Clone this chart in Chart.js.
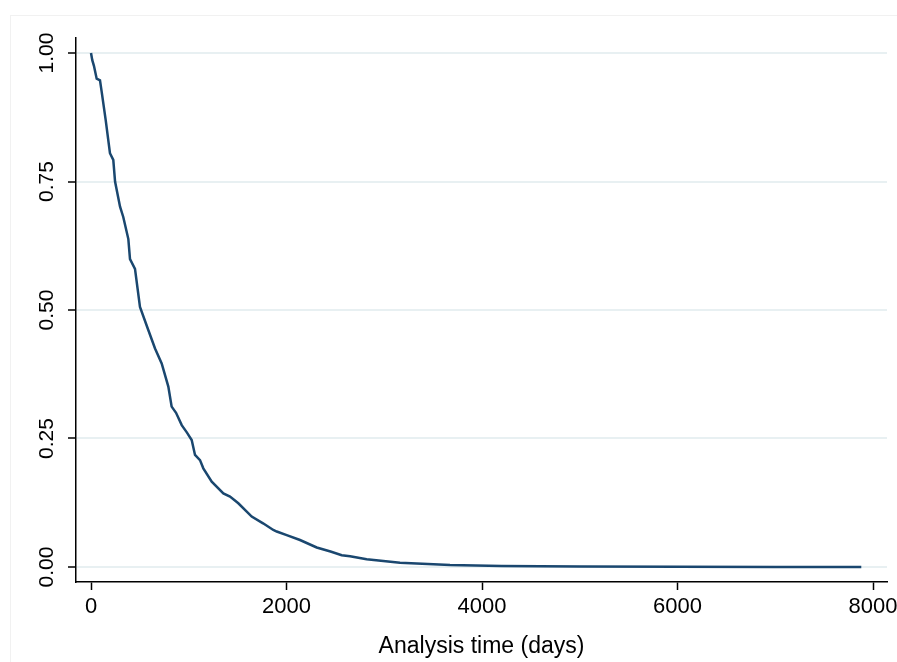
<!DOCTYPE html>
<html>
<head>
<meta charset="utf-8">
<script src="https://cdn.jsdelivr.net/npm/chart.js@4"></script>
<style>
  body { margin: 0; background: #fff; }
  canvas { display: block; }
</style>
</head>
<body>
<canvas id="kmChart" width="897" height="662"></canvas>
<script>
// Kaplan-Meier survival estimate
const days = [0, 13, 30, 58, 92, 109, 150, 194, 228, 246, 297, 330, 382, 399, 450, 501, 586,
  655, 723, 791, 825, 870, 928, 980, 1030, 1064, 1115, 1149, 1235, 1354, 1422, 1507, 1644,
  1760, 1865, 1900, 2002, 2138, 2309, 2450, 2565, 2650, 2820, 3161, 3673, 4200, 5000, 6000, 7000, 7880];
const survival = [1.000, 0.986, 0.975, 0.950, 0.947, 0.925, 0.870, 0.805, 0.792, 0.750, 0.701, 0.681, 0.638, 0.599, 0.580, 0.506, 0.461,
  0.425, 0.396, 0.351, 0.312, 0.300, 0.276, 0.262, 0.247, 0.218, 0.208, 0.192, 0.166, 0.143, 0.137, 0.124, 0.098,
  0.085, 0.072, 0.069, 0.062, 0.0525, 0.038, 0.030, 0.023, 0.021, 0.015, 0.0084, 0.0040, 0.0020, 0.0008, 0.0003, 0.0001, 0.0000];
const xTicks = [0, 2000, 4000, 6000, 8000];
const yTicks = [0, 0.25, 0.5, 0.75, 1];

// faint outer graph-region edge
const frame = {
  id: "frame",
  beforeDraw(chart) {
    const c = chart.ctx;
    c.save();
    c.strokeStyle = "#f1f1f1";
    c.lineWidth = 1;
    c.strokeRect(10.5, 15.5, 900, 660);
    c.restore();
  }
};

const ctx = document.getElementById("kmChart").getContext("2d");
new Chart(ctx, {
  type: "line",
  data: {
    datasets: [
      {
        data: days.map((d, i) => ({ x: d, y: survival[i] })),
        borderColor: "#1a476f",
        borderWidth: 2.5,
        pointRadius: 0,
        tension: 0,
        fill: false
      }
    ]
  },
  options: {
    responsive: false,
    animation: false,
    layout: { padding: { left: 0, top: 38, right: 10, bottom: 0 } },
    plugins: { legend: { display: false }, tooltip: { enabled: false } },
    scales: {
      x: {
        type: "linear",
        min: -153.5,
        max: 8143,
        afterBuildTicks: s => { s.ticks = xTicks.map(v => ({ value: v })); },
        afterFit: s => { s.height = 80; s.paddingLeft = 0; s.paddingRight = 0; },
        border: { display: true, color: "#000", width: 1.5 },
        grid: { drawOnChartArea: false, tickColor: "#000", tickLength: 8, tickWidth: 1.5 },
        ticks: {
          color: "#000",
          padding: 4,
          font: { family: "Liberation Sans", size: 22 },
          callback: v => String(v)
        },
        title: {
          display: true,
          text: "Analysis time (days)",
          color: "#000",
          font: { family: "Liberation Sans", size: 23 },
          padding: { top: 0, bottom: 2 }
        }
      },
      y: {
        type: "linear",
        min: -0.0292,
        max: 1.0292,
        afterBuildTicks: s => { s.ticks = yTicks.map(v => ({ value: v })); },
        afterFit: s => { s.width = 76; s.paddingTop = 0; s.paddingBottom = 0; },
        border: { display: true, color: "#000", width: 1.5 },
        grid: { color: "#e8f0f2", lineWidth: 2, tickColor: "#000", tickLength: 8, tickWidth: 1.5 },
        ticks: {
          color: "#000",
          padding: 0,
          minRotation: 90,
          maxRotation: 90,
          crossAlign: "center",
          font: { family: "Liberation Sans", size: 21 },
          callback: v => v.toFixed(2)
        }
      }
    }
  },
  plugins: [frame]
});
</script>
</body>
</html>
